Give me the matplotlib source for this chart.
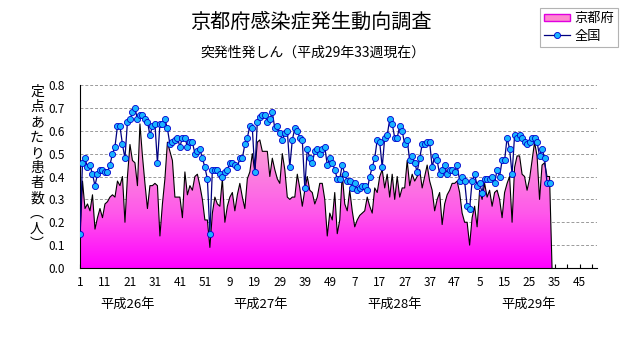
import numpy as np
import matplotlib
matplotlib.use("Agg")
import matplotlib.pyplot as plt
from matplotlib.colors import LinearSegmentedColormap
from matplotlib.lines import Line2D
from matplotlib.patches import Patch

plt.rcParams["font.family"] = ["Noto Sans CJK JP", "DejaVu Sans"]

# weekly reports per sentinel site, 2014 week 1 .. 2017 week 33
kyoto = [
    0.13, 0.38, 0.26, 0.28, 0.25, 0.32, 0.17, 0.22, 0.26, 0.22,
    0.28, 0.29, 0.31, 0.32, 0.31, 0.38, 0.36, 0.40, 0.20, 0.40,
    0.54, 0.47, 0.46, 0.36, 0.63, 0.49, 0.37, 0.26, 0.36, 0.36,
    0.37, 0.36, 0.14, 0.28, 0.39, 0.55, 0.51, 0.47, 0.31, 0.31,
    0.31, 0.22, 0.42, 0.32, 0.36, 0.34, 0.40, 0.41, 0.36, 0.30,
    0.21, 0.21, 0.09, 0.24, 0.31, 0.28, 0.27, 0.39, 0.20, 0.27,
    0.31, 0.33, 0.25, 0.32, 0.37, 0.31, 0.26, 0.39, 0.42, 0.50,
    0.42, 0.55, 0.56, 0.51, 0.51, 0.51, 0.40, 0.48, 0.43, 0.39,
    0.37, 0.50, 0.43, 0.31, 0.30, 0.31, 0.31, 0.41, 0.35, 0.27,
    0.34, 0.40, 0.34, 0.33, 0.28, 0.31, 0.37, 0.37, 0.30, 0.14,
    0.24, 0.21, 0.33, 0.15, 0.21, 0.41, 0.28, 0.25, 0.34, 0.25,
    0.18, 0.21, 0.23, 0.24, 0.25, 0.31, 0.27, 0.24, 0.35, 0.33,
    0.40, 0.43, 0.35, 0.41, 0.31, 0.41, 0.30, 0.40, 0.31, 0.35,
    0.35, 0.47, 0.36, 0.41, 0.38, 0.40, 0.43, 0.35, 0.40, 0.45,
    0.38, 0.34, 0.25, 0.30, 0.33, 0.19, 0.28, 0.32, 0.34, 0.37,
    0.37, 0.38, 0.33, 0.24, 0.20, 0.20, 0.10, 0.22, 0.27, 0.18,
    0.34, 0.30, 0.37, 0.31, 0.34, 0.27, 0.33, 0.34, 0.30, 0.22,
    0.33, 0.37, 0.40, 0.20, 0.44, 0.49, 0.49, 0.41, 0.40, 0.34,
    0.39, 0.47, 0.55, 0.49, 0.30, 0.45, 0.46, 0.40, 0.40,
]

national = [
    0.15, 0.46, 0.48, 0.44, 0.45, 0.41, 0.36, 0.41, 0.43, 0.43,
    0.42, 0.42, 0.45, 0.50, 0.53, 0.62, 0.62, 0.54, 0.48, 0.64,
    0.65, 0.68, 0.70, 0.65, 0.67, 0.67, 0.65, 0.64, 0.58, 0.62,
    0.63, 0.46, 0.63, 0.63, 0.65, 0.61, 0.54, 0.55, 0.56, 0.57,
    0.53, 0.57, 0.57, 0.53, 0.55, 0.55, 0.50, 0.51, 0.52, 0.48,
    0.44, 0.39, 0.15, 0.43, 0.43, 0.43, 0.41, 0.40, 0.42, 0.43,
    0.46, 0.46, 0.45, 0.44, 0.48, 0.48, 0.54, 0.57, 0.62, 0.61,
    0.42, 0.64, 0.66, 0.67, 0.67, 0.64, 0.65, 0.68, 0.61, 0.62,
    0.59, 0.56, 0.59, 0.60, 0.44, 0.56, 0.61, 0.60, 0.57, 0.56,
    0.35, 0.52, 0.48, 0.46, 0.51, 0.52, 0.50, 0.52, 0.53, 0.45,
    0.48, 0.46, 0.43, 0.39, 0.39, 0.45, 0.41, 0.38, 0.38, 0.35,
    0.37, 0.34, 0.35, 0.36, 0.36, 0.34, 0.40, 0.44, 0.48, 0.56,
    0.55, 0.44, 0.57, 0.58, 0.65, 0.63, 0.57, 0.57, 0.62, 0.60,
    0.54, 0.56, 0.47, 0.49, 0.46, 0.42, 0.48, 0.54, 0.54, 0.55,
    0.55, 0.44, 0.49, 0.47, 0.41, 0.43, 0.45, 0.41, 0.43, 0.43,
    0.42, 0.45, 0.38, 0.40, 0.38, 0.27, 0.26, 0.38, 0.41, 0.36,
    0.37, 0.33, 0.39, 0.39, 0.39, 0.40, 0.37, 0.43, 0.40, 0.47,
    0.47, 0.57, 0.52, 0.41, 0.58, 0.57, 0.58, 0.57, 0.55, 0.54,
    0.55, 0.57, 0.57, 0.55, 0.49, 0.52, 0.48, 0.37, 0.37,
]

week_labels = ["1", "11", "21", "31", "41", "51", "9", "19", "29", "39", "49",
               "7", "17", "27", "37", "47", "5", "15", "25", "35", "45"]
year_labels = ["平成26年", "平成27年", "平成28年", "平成29年"]
weeks_per_year = 52
n_years = 4

weeks = np.arange(1, len(kyoto) + 1)
n_weeks = weeks_per_year * n_years

fig = plt.figure(figsize=(6.31, 3.47), dpi=100)
ax = fig.add_axes([80 / 631, 79 / 347, 517 / 631, 183 / 347])

# area series: blank weeks after the last report fall back to zero
x_area = np.append(weeks, weeks[-1] + 1)
y_area = np.append(kyoto, 0.0)
poly = ax.fill_between(x_area, y_area, 0, color="none", lw=0)
pink = LinearSegmentedColormap.from_list(
    "pink", [(0, "#ff00ff"), (0.3, "#ff58ea"), (0.65, "#f99ad8"), (1, "#f6c4e2")])
grad = ax.imshow(np.linspace(1, 0, 256).reshape(-1, 1), cmap=pink, aspect="auto",
                 extent=[1, n_weeks, 0, 0.8], zorder=2)
grad.set_clip_path(poly.get_paths()[0], transform=ax.transData)
ax.plot(x_area, y_area, color="black", lw=0.8, zorder=3)

ax.plot(weeks, national, color="#000080", lw=0.9, marker="o", ms=4.4,
        mfc="#1ab4ff", mec="#0000cd", mew=0.6, zorder=4)

ax.set_xlim(1, n_weeks)
ax.set_ylim(0, 0.8)
ax.set_yticks(np.arange(0, 0.81, 0.1))
ax.set_yticklabels([f"{v:.1f}" for v in np.arange(0, 0.81, 0.1)])
ax.yaxis.grid(True, ls=(0, (3, 2)), color="#9a9a9a", lw=0.7)
ax.set_axisbelow(True)

ax.set_xticks(np.arange(1, n_weeks, 10))
ax.set_xticklabels(week_labels)
ax.set_xticks(np.arange(6, n_weeks, 10), minor=True)
ax.tick_params(axis="x", which="both", direction="in", length=3, width=0.8,
               labelsize=8.5, pad=6)
ax.tick_params(axis="y", length=0, labelsize=8.5, pad=11)
for side in ("top", "right"):
    ax.spines[side].set_visible(False)
for side in ("left", "bottom"):
    ax.spines[side].set_linewidth(0.8)

for i, label in enumerate(year_labels):
    ax.text(20 + i * 53.5, -0.20, label, transform=ax.get_xaxis_transform(),
            ha="center", va="center", fontsize=9.5)

fig.text(311 / 631, 1 - 22 / 347, "京都府感染症発生動向調査", ha="center",
         va="center", fontsize=14.5)
fig.text(313 / 631, 1 - 53 / 347, "突発性発しん（平成29年33週現在）", ha="center",
         va="center", fontsize=10)

# vertical axis title, one glyph per row
ylabel = "定点あたり患者数︵人︶"
for i, ch in enumerate(ylabel):
    fig.text(37 / 631, 1 - (92 + i * 15.2) / 347, ch, ha="center", va="center",
             fontsize=10)

handles = [
    Patch(facecolor="#ff88d0", edgecolor="#e000e0", lw=1.0),
    Line2D([], [], color="#000080", lw=0.9, marker="o", ms=4.4,
           mfc="#1ab4ff", mec="#0000cd", mew=0.6),
]
leg = fig.legend(handles, ["京都府", "全国"], loc="upper right",
                 bbox_to_anchor=(618 / 631, 1 - 8 / 347), frameon=True,
                 fancybox=False, edgecolor="#a0a0a0", fontsize=9.5,
                 handlelength=2.0, handleheight=0.5, borderpad=0.3,
                 labelspacing=0.35, handletextpad=0.3, borderaxespad=0)
leg.get_frame().set_linewidth(0.8)

fig.savefig("out.png", dpi=100)
